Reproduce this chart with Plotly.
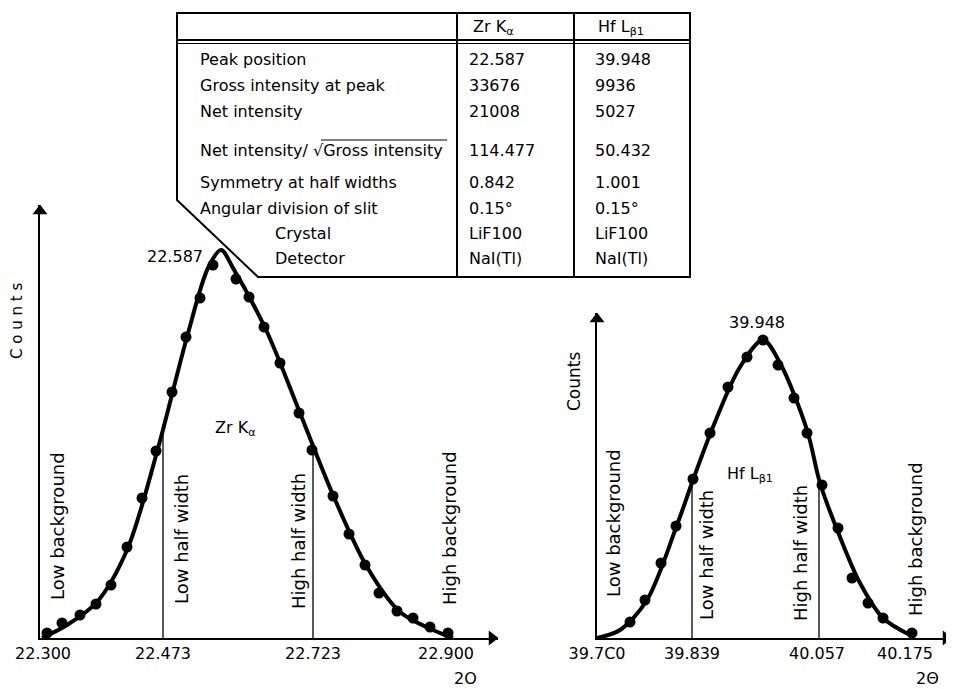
import plotly.graph_objects as go

W, H = 954, 689
OFF = 8  # page body margin of the browser
FONT = "DejaVu Sans"

# ---------------- Left panel: Zr K-alpha scan ----------------
# positions along the drawn 2-theta axis (schematic, not to scale) and relative counts
zr_pos = [7, 22, 40, 56, 71, 87, 102, 116, 132, 146, 160, 173,
          196, 209, 224, 240, 259, 272, 293, 309, 325, 339, 357, 373, 390, 408]
zr_counts = [5, 15, 23, 34, 53, 91, 140, 187, 246, 301, 340, 373,
             359, 341, 311, 275, 225, 188, 142, 104, 73, 45, 27, 20, 11, 5]
zr_fit_pos = [2, 27, 57, 87, 117, 147, 168, 181, 193, 227, 260, 293, 327, 360, 393, 413]
zr_fit_counts = [0, 13, 36, 88, 186, 301, 370, 388, 370, 306, 225, 143, 71, 26, 8, 0]
zr_tick_pos = [3, 123, 273, 406]
zr_tick_text = ["22.300", "22.473", "22.723", "22.900"]
zr_half_pos = [123, 273]
zr_half_counts = [205, 183]
zr_peak = ("22.587", 180, 386)

# ---------------- Right panel: Hf L-beta1 scan ----------------
hf_pos = [33, 48, 64, 79, 96, 113, 131, 150, 166, 181, 197, 210, 225, 241, 255, 271, 286, 315]
hf_counts = [16, 38, 75, 112, 159, 205, 251, 281, 298, 273, 240, 205, 153, 110, 60, 35, 20, 5]
hf_fit_pos = [0, 23, 50, 80, 96, 116, 143, 166, 183, 210, 223, 243, 263, 286, 313]
hf_fit_counts = [0, 8, 38, 113, 158, 211, 271, 298, 275, 208, 155, 101, 55, 20, 3]
hf_tick_pos = [0, 95, 220, 308]
hf_tick_text = ["39.7C0", "39.839", "40.057", "40.175"]
hf_half_pos = [95, 222]
hf_half_counts = [155, 152]
hf_peak = ("39.948", 166, 298)

region_labels = ["Low background", "Low half width", "High half width", "High background"]
zr_label_pos = [17, 141, 258, 409]
zr_label_y = [112, 99, 97, 110]
hf_label_pos = [16, 109, 203, 318]
hf_label_y = [115, 83, 85, 99]

# ---------------- Table ----------------
table_header = ["Zr K<sub>α</sub>", "Hf L<sub>β1</sub>"]
table_rows = ["Peak position", "Gross intensity at peak", "Net intensity",
              "Net intensity/ √Gross intensity", "Symmetry at half widths",
              "Angular division of slit", "Crystal", "Detector"]
zr_values = ["22.587", "33676", "21008", "114.477", "0.842", "0.15°", "LiF100", "NaI(Tl)"]
hf_values = ["39.948", "9936", "5027", "50.432", "1.001", "0.15°", "LiF100", "NaI(Tl)"]


def px(x):
    return (x - OFF) / W


def py(y):
    return 1 - (y - OFF) / H


fig = go.Figure()

# Left panel traces
fig.add_trace(go.Scatter(x=zr_fit_pos, y=zr_fit_counts, mode="lines",
                         line=dict(color="black", width=4, shape="spline", smoothing=0.9),
                         xaxis="x", yaxis="y", cliponaxis=False, hoverinfo="skip"))
fig.add_trace(go.Scatter(x=zr_pos, y=zr_counts, mode="markers",
                         marker=dict(color="black", size=11),
                         xaxis="x", yaxis="y", cliponaxis=False))
for p, c in zip(zr_half_pos, zr_half_counts):
    fig.add_trace(go.Scatter(x=[p, p], y=[0, c], mode="lines",
                             line=dict(color="black", width=1.3), xaxis="x", yaxis="y"))

# Right panel traces
fig.add_trace(go.Scatter(x=hf_fit_pos, y=hf_fit_counts, mode="lines",
                         line=dict(color="black", width=4, shape="spline", smoothing=0.9),
                         xaxis="x2", yaxis="y2", cliponaxis=False, hoverinfo="skip"))
fig.add_trace(go.Scatter(x=hf_pos, y=hf_counts, mode="markers",
                         marker=dict(color="black", size=11),
                         xaxis="x2", yaxis="y2", cliponaxis=False))
for p, c in zip(hf_half_pos, hf_half_counts):
    fig.add_trace(go.Scatter(x=[p, p], y=[0, c], mode="lines",
                             line=dict(color="black", width=1.3), xaxis="x2", yaxis="y2"))

# arrowheads at the ends of the axes
for xr, yr, xmax, ymax in (("x", "y", 458, 433), ("x2", "y2", 355, 325)):
    fig.add_trace(go.Scatter(x=[xmax - 6], y=[0], mode="markers", xaxis=xr, yaxis=yr,
                             marker=dict(symbol="triangle-right", size=13, color="black"),
                             cliponaxis=False, hoverinfo="skip"))
    fig.add_trace(go.Scatter(x=[0], y=[ymax - 6], mode="markers", xaxis=xr, yaxis=yr,
                             marker=dict(symbol="triangle-up", size=13, color="black"),
                             cliponaxis=False, hoverinfo="skip"))

axis_common = dict(showgrid=False, zeroline=False, showline=True, linecolor="black",
                   linewidth=1.8, ticks="", automargin=False,
                   tickfont=dict(family=FONT, size=16, color="black"), fixedrange=True)

fig.update_layout(
    width=W, height=H, showlegend=False,
    margin=dict(l=0, r=0, t=0, b=0, pad=0, autoexpand=False),
    paper_bgcolor="white", plot_bgcolor="rgba(0,0,0,0)",
    font=dict(family=FONT, color="black"),
    xaxis=dict(domain=[px(40), px(498)], range=[0, 458], tickvals=zr_tick_pos,
               ticktext=zr_tick_text, anchor="y", **axis_common),
    yaxis=dict(domain=[py(638), py(205)], range=[0, 433], showticklabels=False,
               anchor="x", **axis_common),
    xaxis2=dict(domain=[px(597), px(952)], range=[0, 355], tickvals=hf_tick_pos,
                ticktext=hf_tick_text, anchor="y2", **axis_common),
    yaxis2=dict(domain=[py(638), py(313)], range=[0, 325], showticklabels=False,
                anchor="x2", **axis_common),
)

ann = []


def note(x, y, text, size=16, xref="paper", yref="paper", xanchor="center",
         yanchor="middle", angle=0):
    ann.append(dict(x=x, y=y, xref=xref, yref=yref, text=text, showarrow=False,
                    xanchor=xanchor, yanchor=yanchor, textangle=angle,
                    font=dict(size=size, family=FONT, color="black")))


# rotated region labels
for t, p, yv in zip(region_labels, zr_label_pos, zr_label_y):
    note(p, yv, t, 18, "x", "y", angle=-90)
for t, p, yv in zip(region_labels, hf_label_pos, hf_label_y):
    note(p, yv, t, 18, "x2", "y2", angle=-90)

# line names and peak labels
note(195, 210, "Zr K<sub>α</sub>", 16, "x", "y")
note(153, 163, "Hf L<sub>β1</sub>", 16, "x2", "y2")
note(zr_peak[1] - 15, zr_peak[2] - 5, zr_peak[0], 16, "x", "y", xanchor="right")
note(hf_peak[1] - 6, hf_peak[2] + 17, hf_peak[0], 16, "x2", "y2")

# axis titles
note(px(17), py(321), "C o u n t s", 15, angle=-90)
note(px(574), py(382), "Counts", 17, angle=-90)
note(px(465), py(678), "2O", 16)
note(px(927), py(678), "2Θ", 16)

# table text
row_y = [60, 86, 111, 150, 183, 208, 233, 258]
for i, (lab, v1, v2) in enumerate(zip(table_rows, zr_values, hf_values)):
    lx = 273 if lab in ("Crystal", "Detector") else 198
    note(px(lx), py(row_y[i]), lab, 16, xanchor="left")
    note(px(467), py(row_y[i]), v1, 16, xanchor="left")
    note(px(593), py(row_y[i]), v2, 16, xanchor="left")
note(px(493), py(27), table_header[0], 16)
note(px(621), py(28), table_header[1], 16)

fig.update_layout(annotations=ann)

# table lines
shapes = []
border = (f"M {px(177)},{py(13)} L {px(690)},{py(13)} L {px(690)},{py(277)} "
          f"L {px(258)},{py(277)} L {px(177)},{py(200)} Z")
shapes.append(dict(type="path", path=border, xref="paper", yref="paper",
                   line=dict(color="black", width=2)))
shapes.append(dict(type="line", x0=px(177), x1=px(690), y0=py(40), y1=py(40),
                   xref="paper", yref="paper", line=dict(color="black", width=2)))
shapes.append(dict(type="line", x0=px(177), x1=px(690), y0=py(43.5), y1=py(43.5),
                   xref="paper", yref="paper", line=dict(color="black", width=1)))
for cx in (457, 574):
    shapes.append(dict(type="line", x0=px(cx), x1=px(cx), y0=py(13), y1=py(277),
                       xref="paper", yref="paper", line=dict(color="black", width=2)))
# overline of the square root
shapes.append(dict(type="line", x0=px(321), x1=px(447), y0=py(140), y1=py(140),
                   xref="paper", yref="paper", line=dict(color="black", width=1.2)))
fig.update_layout(shapes=shapes)

fig.write_html("out.html")
